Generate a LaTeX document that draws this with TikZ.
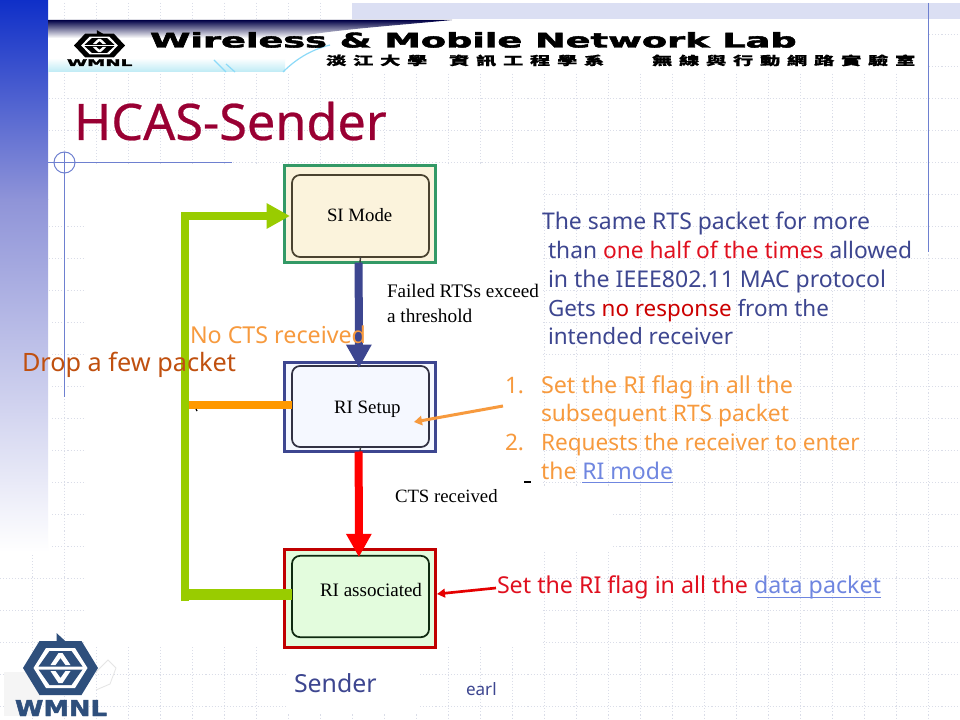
\documentclass[tikz,border=0pt]{standalone}
\usepackage{fontspec}
\setmainfont{Noto Sans}
\newfontfamily\serifx{Liberation Serif}
\newfontfamily\headfont[BoldFeatures={FakeBold=2}]{DejaVu Sans}
\newfontfamily\titlefont[FakeBold=0.5]{Noto Sans}
\newfontfamily\cjkx[FakeStretch=1.7,LetterSpace=55,BoldFeatures={FakeBold=0.6}]{Noto Sans CJK TC}
\usetikzlibrary{arrows.meta}
\definecolor{navy}{HTML}{3D4690}
\definecolor{redt}{HTML}{E0101F}
\definecolor{oranget}{HTML}{F79A3E}
\definecolor{linkc}{HTML}{6F86E0}
\definecolor{dropc}{HTML}{C0500F}
\definecolor{titlec}{HTML}{990033}
\definecolor{gridc}{HTML}{DADDE8}
\definecolor{rulec}{HTML}{6E80D0}
\definecolor{limeg}{HTML}{99CC00}
\definecolor{orangeb}{HTML}{FF9900}
\definecolor{logoc}{HTML}{2E4F7C}
\newcommand\fitw[2]{\resizebox{#1pt}{!}{#2}}
\tikzset{
  x=0.75pt,y=-0.75pt,
  txt/.style={anchor=base west,inner sep=0pt,outer sep=0pt},
  outerbox/.style={draw,line width=2.25pt,inner sep=0pt,outer sep=0pt},
  innerbox/.style={draw,rounded corners=6pt,line width=1.3pt,inner sep=0pt,outer sep=0pt},
  gridline/.style={gridc,line width=0.6pt,dash pattern=on 0.8pt off 1.5pt},
  thinrule/.style={rulec,line width=0.75pt},
  flow/.style={line width=6pt},
  stub/.style={line width=1.1pt,black!75},
  big/.style={-{Triangle[length=17.5pt,width=18pt]}},
}
\newcommand\logo[5]{%
  \begin{scope}[shift={(#1,#2)},x=#30.75pt,y=-#40.75pt]
    \fill[#5] (-37.5,0)--(-21,-27)--(21,-27)--(37.5,0)--(21,27)--(-21,27)--cycle;
    \fill[#5] (-4,-20)--(-4,-35)--(8,-24)--cycle;
    \fill[white] (-27,0)--(-14.5,-20)--(14.5,-20)--(27,0)--(14.5,20)--(-14.5,20)--cycle;
    \fill[#5] (-22,-1.5)--(-11,-17)--(11,-17)--(22,-1.5)--cycle;
    \fill[#5] (-22,1.5)--(-11,17)--(11,17)--(22,1.5)--cycle;
    \fill[white] (-10,-3)--(-2,-15)--(2,-15)--(10,-3)--(5,-3)--(0,-10)--(-5,-3)--cycle;
    \fill[white] (-10,3)--(-2,15)--(2,15)--(10,3)--(5,3)--(0,10)--(-5,3)--cycle;
  \end{scope}}
\begin{document}
\begin{tikzpicture}
\useasboundingbox (0,0) rectangle (960,720);
\fill[white] (0,0) rectangle (960,720);
% dotted grid
\foreach \gx in {32,64,...,960} \draw[gridline] (\gx,3) -- (\gx,720);
\foreach \gy in {34,66,...,706} \draw[gridline] (0,\gy) -- (960,\gy);
% white masks over the grid
\fill[white] (86,166) rectangle (543,647);
\fill[white] (543,486) rectangle (612,550);
\fill[white] (48,166) rectangle (86,200);
\fill[white] (48,300) rectangle (50,560);
\fill[white] (288,648) rectangle (420,712);
% left band
\shade[top color={rgb,255:red,15;green,47;blue,200},bottom color={rgb,255:red,143;green,148;blue,216}] (0,0) rectangle (48,200);
\shade[top color={rgb,255:red,143;green,148;blue,216},bottom color=white] (0,200) rectangle (48,552);
% top band
\fill[rulec!25] (352,3) rectangle (960,19);
% rules
\draw[thinrule] (48,162.5) -- (232,162.5);
\draw[thinrule] (64.5,152) -- (64.5,397);
\draw[thinrule] (64.5,162.5) circle[radius=10.5];
\draw[thinrule] (928.5,3) -- (928.5,252);
% header picture
\fill[white] (48,20) rectangle (928,72);
\shade[top color={rgb,255:red,0;green,0;blue,70},middle color={rgb,255:red,20;green,90;blue,170},bottom color=white] (48,20) -- (452,20) .. controls (390,26) and (330,30) .. (290,38) -- (48,38) -- cycle;
\shade[top color=white,bottom color={rgb,255:red,190;green,235;blue,245}] (48,58) rectangle (285,72);
\draw[cyan!45!white,line width=0.9pt] (283,72) .. controls (295,60) and (310,50) .. (330,45);
\draw[cyan!45!white,line width=0.9pt] (214,60) -- (226,72);
\draw[cyan!45!white,line width=0.9pt] (226,64) -- (235,72);
\logo{99.5}{45.5}{0.68*}{0.44*}{black}
\node[txt] (hlogo) at (67,66) {\resizebox{49pt}{5pt}{\headfont\bfseries WMNL}};
\node[txt] (hlab) at (150,47.5) {\resizebox{485pt}{11.5pt}{\headfont\bfseries Wireless \& Mobile Network Lab}};
\node[txt] (hcjka) at (326,65) {\cjkx\bfseries\fontsize{9}{9}\selectfont 淡江大學};
\node[txt] (hcjkb) at (449,65) {\cjkx\bfseries\fontsize{9}{9}\selectfont 資訊工程學系};
\node[txt] (hcjkc) at (652,65) {\cjkx\bfseries\fontsize{9}{9}\selectfont 無線與行動網路實驗室};
% title
\node[txt,text=titlec] (title) at (74,140) {\fitw{234.5}{\titlefont\fontsize{40}{40}\selectfont HCAS-Sender}};
% state boxes
\node[outerbox,draw={rgb,255:red,51;green,153;blue,102},fill={rgb,255:red,251;green,243;blue,220},minimum width=113.25pt,minimum height=73pt] (siouter) at (360,214) {};
\node[innerbox,draw={rgb,255:red,74;green,66;blue,48},fill={rgb,255:red,251;green,243;blue,220},minimum width=102.75pt,minimum height=61.5pt] (siinner) at (360.5,216) {};
\node[outerbox,draw=navy,fill={rgb,255:red,245;green,248;blue,255},minimum width=113.25pt,minimum height=66.75pt] (setupouter) at (360,407) {};
\node[innerbox,draw={rgb,255:red,50;green,50;blue,68},fill={rgb,255:red,245;green,248;blue,255},minimum width=102.75pt,minimum height=60.75pt] (setupinner) at (360.5,406.5) {};
\node[outerbox,draw={rgb,255:red,192;green,0;blue,0},fill={rgb,255:red,227;green,252;blue,221},minimum width=113.25pt,minimum height=73pt] (assocouter) at (360,598.5) {};
\node[innerbox,draw={rgb,255:red,15;green,42;blue,16},fill={rgb,255:red,227;green,252;blue,221},minimum width=102.75pt,minimum height=61pt] (associnner) at (360.5,596.5) {};
% connectors
\coordinate (gbottom) at (185,601);
\coordinate (gtop) at (185,212);
\coordinate (gupper) at (181,216);
\coordinate (glower) at (189,594.5);
\coordinate (ostart) at (189,405);
\draw[stub] (siinner.south) -- (siouter.south);
\draw[stub] (setupinner.south) -- (setupouter.south);
\draw[flow,draw=navy,big,shorten >=-1.5pt] ([xshift=-1pt]siouter.south) -- ([xshift=-1.2pt]setupinner.north);
\draw[flow,draw=red,big,shorten >=-1pt] ([xshift=-1pt]setupouter.south) -- ([xshift=-1.2pt]associnner.north);
\draw[flow,draw=limeg] (gbottom) -- (gtop);
\draw[flow,draw=limeg,big,shorten >=1.5pt] (gupper) -- (gupper -| siinner.west);
\draw[line width=8.25pt,draw=limeg] (glower) -- (glower -| associnner.west);
\draw[flow,draw=orangeb] (ostart) -- (ostart -| setupinner.west);
\draw[black,line width=1pt] (196,409) -- (197,411);
\draw[black,line width=1pt] (524,482) -- (531,482);
\coordinate (oa) at (503,406);
\coordinate (ob) at (414,422);
\coordinate (ra) at (496,588);
\coordinate (rb) at (437,594);
\draw[line width=2.25pt,draw=oranget,-{Triangle[length=6pt,width=7pt]}] (oa) -- (ob);
\draw[line width=2pt,draw=red!90!black,-{Triangle[length=6pt,width=6.5pt]}] (ra) -- (rb);
% figure labels
\node[txt] (lsi) at (327,222) {\fitw{49}{\serifx\fontsize{13}{13}\selectfont SI Mode}};
\node[txt] (lset) at (334,413) {\fitw{50}{\serifx\fontsize{13}{13}\selectfont RI Setup}};
\node[txt] (lass) at (320,596) {\fitw{76.5}{\serifx\fontsize{13}{13}\selectfont RI associated}};
\node[txt] (lf1) at (387,297) {\fitw{114}{\serifx\fontsize{13}{13}\selectfont Failed RTSs exceed}};
\node[txt] (lf2) at (387,322) {\fitw{64}{\serifx\fontsize{13}{13}\selectfont a threshold}};
\node[txt] (lcts) at (395,502) {\fitw{77}{\serifx\fontsize{13}{13}\selectfont CTS received}};
% slide text
\node[txt,text=navy] (a1) at (542,230) {\fitw{246}{\fontsize{18}{18}\selectfont The same RTS packet for more}};
\node[txt,text=navy] (a2) at (548,258.5) {\fitw{273}{\fontsize{18}{18}\selectfont than \textcolor{redt}{one half of the times} allowed}};
\node[txt,text=navy] (a3) at (548,287) {\fitw{253.5}{\fontsize{18}{18}\selectfont in the IEEE802.11 MAC protocol}};
\node[txt,text=navy] (a4) at (548,316) {\fitw{210.75}{\fontsize{18}{18}\selectfont Gets \textcolor{red!80!black}{no response} from the}};
\node[txt,text=navy] (a5) at (548,344.5) {\fitw{138.75}{\fontsize{18}{18}\selectfont intended receiver}};
\node[txt,text=oranget] (n1) at (505,393) {\fontsize{17}{17}\selectfont 1.};
\node[txt,text=oranget] (b1) at (541,393) {\fitw{189}{\fontsize{18}{18}\selectfont Set the RI flag in all the}};
\node[txt,text=oranget] (b2) at (541,421.5) {\fitw{186}{\fontsize{18}{18}\selectfont subsequent RTS packet}};
\node[txt,text=oranget] (n2) at (505,450) {\fontsize{17}{17}\selectfont 2.};
\node[txt,text=oranget] (b3) at (541,450) {\fitw{239}{\fontsize{18}{18}\selectfont Requests the receiver to enter}};
\node[txt,text=oranget] (b4) at (541,479) {\fitw{99}{\fontsize{18}{18}\selectfont the \textcolor{linkc}{RI mode}}};
\draw[linkc,line width=0.75pt] (582,482.5) -- (673,482.5);
\node[txt,text=oranget] (nocts) at (190,344) {\fitw{132}{\fontsize{18}{18}\selectfont No CTS received}};
\node[txt,text=dropc] (drop) at (22,371) {\fitw{160.5}{\fontsize{18}{18}\selectfont Drop a few packet}};
\node[txt,text=redt] (setri) at (497,593.5) {\fitw{288}{\fontsize{18}{18}\selectfont Set the RI flag in all the \textcolor{linkc}{data packet}}};
\draw[linkc,line width=0.75pt] (757,597.5) -- (881,597.5);
\node[txt,text=navy] (sender) at (294,692) {\fitw{62}{\fontsize{20}{20}\selectfont Sender}};
\node[txt,text=navy] (earl) at (466,695) {\fitw{23}{\fontsize{13}{13}\selectfont earl}};
% footer logo
\fill[gray!8] (4,672) rectangle (40,716);
\draw[gray!20,line width=0.6pt] (96,672) -- (108,660) -- (116,668) -- (110,684) -- (96,690);
\logo{60.5}{668}{1*}{1*}{logoc}
\node[txt,text=logoc] (flogo) at (15,716) {\resizebox{69pt}{12pt}{\headfont\bfseries WMNL}};
\end{tikzpicture}
\end{document}
